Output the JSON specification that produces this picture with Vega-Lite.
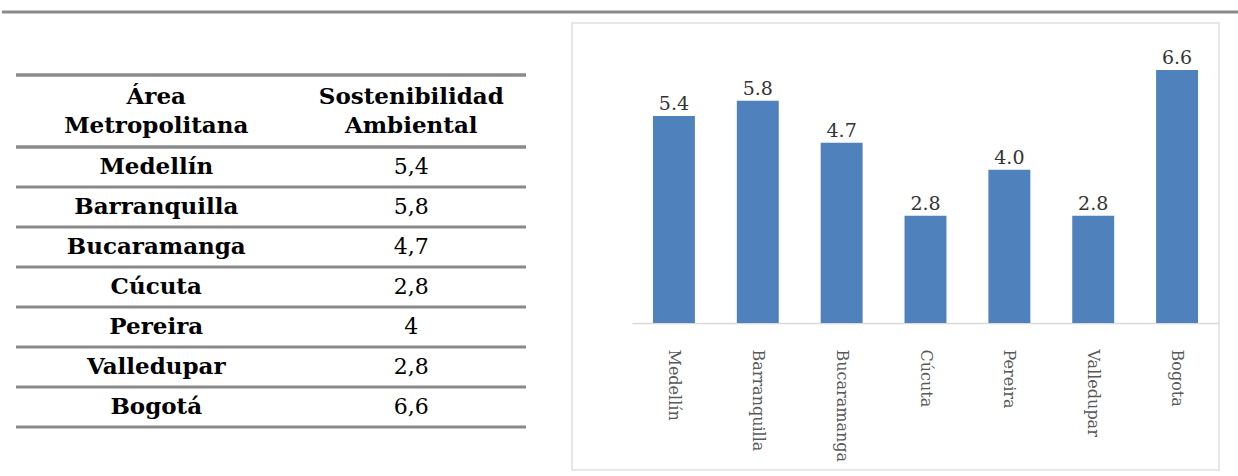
{
  "$schema": "https://vega.github.io/schema/vega-lite/v6.json",
  "padding": {"top": 10, "left": 0, "right": 0, "bottom": 0},
  "background": "white",
  "config": {"view": {"stroke": null}, "font": "DejaVu Serif"},
  "datasets": {
    "tabla": [
      {"area": "Medellín", "grafico": "Medellín", "valor": 5.4},
      {"area": "Barranquilla", "grafico": "Barranquilla", "valor": 5.8},
      {"area": "Bucaramanga", "grafico": "Bucaramanga", "valor": 4.7},
      {"area": "Cúcuta", "grafico": "Cúcuta", "valor": 2.8},
      {"area": "Pereira", "grafico": "Pereira", "valor": 4.0},
      {"area": "Valledupar", "grafico": "Valledupar", "valor": 2.8},
      {"area": "Bogotá", "grafico": "Bogota", "valor": 6.6}
    ],
    "encabezado": [
      {"columna": "Área Metropolitana"},
      {"columna": "Sostenibilidad Ambiental"}
    ]
  },
  "bounds": "flush",
  "spacing": 10,
  "vconcat": [
    {
      "width": 1238,
      "height": 1,
      "data": {"values": [{}]},
      "mark": {"type": "rule", "color": "#8a8a8a", "strokeWidth": 3},
      "encoding": {"y": {"value": 0}}
    },
    {
      "bounds": "flush",
      "spacing": 46,
      "hconcat": [
        {
          "width": 524,
          "height": 447,
          "resolve": {"scale": {"y": "independent"}},
          "layer": [
            {
              "data": {"name": "encabezado"},
              "encoding": {
                "y": {"datum": "encabezado", "type": "nominal", "axis": null,
                  "scale": {"domain": ["encabezado"], "range": [52, 124], "paddingInner": 0, "paddingOuter": 0}}
              },
              "layer": [
                {
                  "mark": {"type": "rule", "color": "#8a8a8a", "strokeWidth": 3},
                  "encoding": {
                    "x": {"datum": "Área Metropolitana", "type": "nominal", "bandPosition": 0, "axis": null,
                      "scale": {"type": "band", "domain": ["Área Metropolitana", "Sostenibilidad Ambiental"], "range": [14, 524], "paddingInner": 0, "paddingOuter": 0}},
                    "x2": {"value": "width"},
                    "y": {"datum": "encabezado", "type": "nominal", "bandPosition": 0}
                  }
                },
                {
                  "mark": {"type": "rule", "color": "#8a8a8a", "strokeWidth": 3},
                  "encoding": {
                    "x": {"datum": "Área Metropolitana", "type": "nominal", "bandPosition": 0},
                    "x2": {"value": "width"},
                    "y": {"datum": "encabezado", "type": "nominal", "bandPosition": 1}
                  }
                },
                {
                  "mark": {"type": "text", "font": "DejaVu Serif", "fontWeight": "bold", "fontSize": 23, "lineBreak": " ", "lineHeight": 29, "color": "#000000", "baseline": "middle"},
                  "encoding": {
                    "x": {"field": "columna", "type": "nominal", "sort": null, "bandPosition": 0.55},
                    "y": {"datum": "encabezado", "type": "nominal", "bandPosition": 0.31},
                    "text": {"field": "columna"}
                  }
                }
              ]
            },
            {
              "data": {"name": "tabla"},
              "encoding": {
                "y": {"field": "area", "type": "nominal", "sort": null, "axis": null,
                  "scale": {"range": [124, 404], "paddingInner": 0, "paddingOuter": 0}}
              },
              "layer": [
                {
                  "mark": {"type": "rule", "color": "#8a8a8a", "strokeWidth": 3},
                  "encoding": {
                    "x": {"datum": "Área Metropolitana", "type": "nominal", "bandPosition": 0},
                    "x2": {"value": "width"},
                    "y": {"field": "area", "type": "nominal", "sort": null, "bandPosition": 1}
                  }
                },
                {
                  "mark": {"type": "text", "font": "DejaVu Serif", "fontWeight": "bold", "fontSize": 23, "color": "#000000"},
                  "encoding": {
                    "x": {"datum": "Área Metropolitana", "type": "nominal", "bandPosition": 0.55},
                    "text": {"field": "area"}
                  }
                },
                {
                  "mark": {"type": "text", "font": "DejaVu Serif", "fontSize": 22, "color": "#000000",
                    "text": {"expr": "replace(format(datum.valor, '~g'), '.', ',')"}},
                  "encoding": {
                    "x": {"datum": "Sostenibilidad Ambiental", "type": "nominal", "bandPosition": 0.55}
                  }
                }
              ]
            }
          ]
        },
        {
          "width": 647,
          "height": 447,
          "view": {"stroke": "#e0e0e0", "strokeWidth": 1.5, "fill": "white"},
          "data": {"name": "tabla"},
          "encoding": {
            "x": {"field": "grafico", "type": "nominal", "sort": null, "title": null,
              "scale": {"range": [60, 647], "paddingInner": 0.5, "paddingOuter": 0.25},
              "axis": {"orient": "bottom", "offset": -147, "labelAngle": 90, "labelPadding": 26,
                "ticks": false, "domainColor": "#d9d9d9", "domainWidth": 1.5,
                "labelFont": "DejaVu Serif", "labelFontSize": 16, "labelColor": "#595959"}},
            "y": {"field": "valor", "type": "quantitative", "axis": null,
              "scale": {"domain": [0, 7.826], "range": [300, 0], "nice": false, "zero": true}}
          },
          "layer": [
            {"mark": {"type": "bar", "color": "#4f81bd"}},
            {
              "mark": {"type": "text", "font": "DejaVu Serif", "fontSize": 19, "color": "#333333", "baseline": "alphabetic", "dy": -6},
              "encoding": {"text": {"field": "valor", "type": "quantitative", "format": ".1f"}}
            }
          ]
        }
      ]
    }
  ]
}
